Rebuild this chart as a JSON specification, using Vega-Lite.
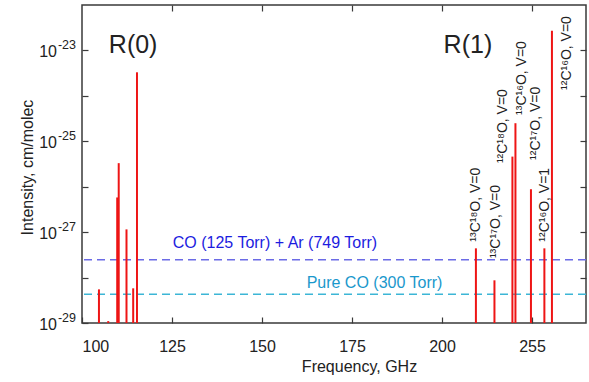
{
  "$schema": "https://vega.github.io/schema/vega-lite/v6.json",
  "width": 504,
  "height": 318,
  "autosize": {"type": "none"},
  "padding": {"left": 82, "top": 5, "right": 3, "bottom": 59},
  "background": "white",
  "config": {
    "font": "Liberation Sans",
    "view": {"stroke": "#3a3a3a", "strokeWidth": 1.5},
    "axis": {
      "grid": false,
      "domain": false,
      "tickColor": "#3a3a3a",
      "tickSize": -6,
      "tickWidth": 1.2,
      "labelFont": "Liberation Sans",
      "labelFontSize": 16,
      "labelColor": "#222222",
      "titleFont": "Liberation Sans",
      "titleFontSize": 16,
      "titleFontWeight": "normal",
      "titleColor": "#222222"
    }
  },
  "datasets": {
    "lines": [
      {"band": "R(0)", "species": "13C18O v=0", "freq": 104.71, "intensity": 5.5e-29},
      {"band": "R(0)", "species": "13C17O v=0", "freq": 107.29, "intensity": 1.1e-29},
      {"band": "R(0)", "species": "12C18O v=0", "freq": 109.78, "intensity": 5.8e-27},
      {"band": "R(0)", "species": "13C16O v=0", "freq": 110.2, "intensity": 3.3e-26},
      {"band": "R(0)", "species": "12C17O v=0", "freq": 112.36, "intensity": 1.15e-27},
      {"band": "R(0)", "species": "12C16O v=1", "freq": 114.22, "intensity": 5.8e-29},
      {"band": "R(0)", "species": "12C16O v=0", "freq": 115.27, "intensity": 3.3e-24},
      {"band": "R(1)", "species": "13C18O v=0", "freq": 209.42, "intensity": 4.4e-28},
      {"band": "R(1)", "species": "13C17O v=0", "freq": 214.57, "intensity": 8.7e-29},
      {"band": "R(1)", "species": "12C18O v=0", "freq": 219.56, "intensity": 4.6e-26},
      {"band": "R(1)", "species": "13C16O v=0", "freq": 220.4, "intensity": 2.5e-25},
      {"band": "R(1)", "species": "12C17O v=0", "freq": 224.71, "intensity": 8.8e-27},
      {"band": "R(1)", "species": "12C16O v=1", "freq": 228.44, "intensity": 4.4e-28},
      {"band": "R(1)", "species": "12C16O v=0", "freq": 230.54, "intensity": 2.7e-23}
    ],
    "limits": [
      {"condition": "CO + Ar", "level": 2.47e-28, "label": "CO (125 Torr)  + Ar (749 Torr)", "labelFreq": 153.6, "labelLevel": 5.9e-28},
      {"condition": "Pure CO", "level": 4.28e-29, "label": "Pure CO (300 Torr)", "labelFreq": 181.25, "labelLevel": 7.6e-29}
    ],
    "yTicks": [
      {"value": 1e-23, "base": "10", "exp": "-23"},
      {"value": 1e-25, "base": "10", "exp": "-25"},
      {"value": 1e-27, "base": "10", "exp": "-27"},
      {"value": 1e-29, "base": "10", "exp": "-29"}
    ],
    "isoLabels": [
      {"text": "¹³C¹⁸O,  V=0", "freq": 209.4, "pos": 6.17e-28},
      {"text": "¹³C¹⁷O,  V=0", "freq": 215.0, "pos": 2.69e-28},
      {"text": "¹²C¹⁸O,  V=0", "freq": 216.9, "pos": 3.31e-26},
      {"text": "¹³C¹⁶O,  V=0", "freq": 222.1, "pos": 3.8e-25},
      {"text": "¹²C¹⁷O,  V=0", "freq": 226.1, "pos": 3.89e-26},
      {"text": "¹²C¹⁶O,  V=1", "freq": 228.6, "pos": 6.17e-28},
      {"text": "¹²C¹⁶O,  V=0", "freq": 234.6, "pos": 1.35e-24}
    ],
    "bandLabels": [
      {"text": "R(0)", "freq": 114.2, "pos": 8.7e-24},
      {"text": "R(1)", "freq": 207.2, "pos": 8.7e-24}
    ]
  },
  "resolve": {"axis": {"x": "independent", "y": "independent"}},
  "layer": [
    {
      "data": {"name": "limits"},
      "mark": {"type": "rule", "strokeWidth": 1.5, "strokeDash": [8, 5]},
      "encoding": {
        "y": {"field": "level", "type": "quantitative", "scale": {"type": "log", "domain": [1e-29, 1e-22], "nice": false}, "axis": null},
        "color": {"field": "condition", "type": "nominal", "scale": {"domain": ["CO + Ar", "Pure CO"], "range": ["#6b6be6", "#3cb6d6"]}, "legend": null}
      }
    },
    {
      "data": {"name": "lines"},
      "mark": {"type": "rule", "color": "#ee1515", "strokeWidth": 2},
      "encoding": {
        "x": {
          "field": "freq", "type": "quantitative",
          "scale": {"domain": [100, 240], "nice": false, "zero": false},
          "axis": {
            "orient": "bottom",
            "values": [100, 125, 150, 175, 200, 225],
            "labelExpr": "datum.value == 225 ? '255' : datum.label",
            "labelPadding": 21,
            "title": "Frequency, GHz",
            "titlePadding": 4,
            "titleX": 277,
            "titleAlign": "center"
          }
        },
        "y": {
          "field": "intensity", "type": "quantitative",
          "scale": {"type": "log", "domain": [1e-29, 1e-22], "nice": false},
          "axis": {
            "orient": "left",
            "values": [1e-29, 1e-28, 1e-27, 1e-26, 1e-25, 1e-24, 1e-23],
            "labels": false,
            "title": "Intensity,  cm/molec",
            "titleX": -55,
            "titleY": 162,
            "titleAngle": 270,
            "titleAlign": "center",
            "titleBaseline": "middle"
          }
        },
        "y2": {"datum": 1e-29}
      }
    },
    {
      "data": {"name": "lines"},
      "mark": {"type": "point", "opacity": 0},
      "encoding": {
        "x": {"field": "freq", "type": "quantitative", "scale": {"domain": [100, 240], "nice": false, "zero": false},
          "axis": {"orient": "top", "values": [125, 150, 175, 200, 225], "labels": false, "title": null}},
        "y": {"field": "intensity", "type": "quantitative", "scale": {"type": "log", "domain": [1e-29, 1e-22], "nice": false},
          "axis": {"orient": "right", "values": [1e-28, 1e-27, 1e-26, 1e-25, 1e-24, 1e-23], "labels": false, "title": null}}
      }
    },
    {
      "data": {"name": "yTicks"},
      "mark": {"type": "text", "fontSize": 16, "align": "right", "baseline": "alphabetic", "dx": -25, "dy": 7, "color": "#222222"},
      "encoding": {
        "x": {"datum": 100, "type": "quantitative", "axis": null},
        "y": {"field": "value", "type": "quantitative", "axis": null},
        "text": {"field": "base"}
      }
    },
    {
      "data": {"name": "yTicks"},
      "mark": {"type": "text", "fontSize": 12.5, "align": "right", "baseline": "alphabetic", "dx": -6, "dy": -1, "color": "#222222"},
      "encoding": {
        "x": {"datum": 100, "type": "quantitative", "axis": null},
        "y": {"field": "value", "type": "quantitative", "axis": null},
        "text": {"field": "exp"}
      }
    },
    {
      "data": {"name": "limits"},
      "transform": [{"filter": "datum.condition == 'CO + Ar'"}],
      "mark": {"type": "text", "fontSize": 16, "align": "center", "baseline": "middle", "color": "#1c1ce0"},
      "encoding": {
        "x": {"field": "labelFreq", "type": "quantitative", "axis": null},
        "y": {"field": "labelLevel", "type": "quantitative", "axis": null},
        "text": {"field": "label"}
      }
    },
    {
      "data": {"name": "limits"},
      "transform": [{"filter": "datum.condition == 'Pure CO'"}],
      "mark": {"type": "text", "fontSize": 16, "align": "center", "baseline": "middle", "color": "#1a98cc"},
      "encoding": {
        "x": {"field": "labelFreq", "type": "quantitative", "axis": null},
        "y": {"field": "labelLevel", "type": "quantitative", "axis": null},
        "text": {"field": "label"}
      }
    },
    {
      "data": {"name": "isoLabels"},
      "mark": {"type": "text", "fontSize": 14, "angle": 270, "align": "left", "baseline": "middle", "color": "#222222"},
      "encoding": {
        "x": {"field": "freq", "type": "quantitative", "axis": null},
        "y": {"field": "pos", "type": "quantitative", "axis": null},
        "text": {"field": "text"}
      }
    },
    {
      "data": {"name": "bandLabels"},
      "mark": {"type": "text", "fontSize": 25, "align": "center", "baseline": "alphabetic", "color": "#222222"},
      "encoding": {
        "x": {"field": "freq", "type": "quantitative", "axis": null},
        "y": {"field": "pos", "type": "quantitative", "axis": null},
        "text": {"field": "text"}
      }
    }
  ]
}
